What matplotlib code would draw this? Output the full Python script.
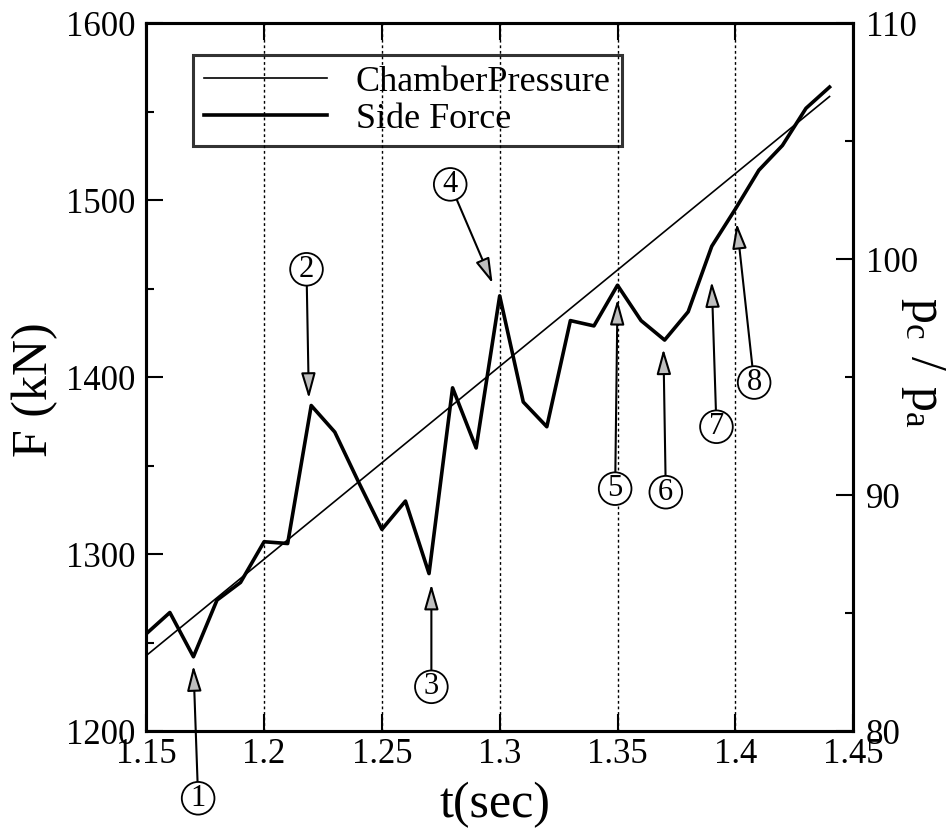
import matplotlib
matplotlib.use('Agg')
import matplotlib.pyplot as plt
from matplotlib.ticker import MultipleLocator

plt.rcParams['font.family'] = ['Liberation Serif', 'DejaVu Serif']
plt.rcParams['mathtext.fontset'] = 'custom'
plt.rcParams['mathtext.rm'] = 'Liberation Serif'

# side force (kN) sampled every 0.01 s
t_force = [1.15, 1.16, 1.17, 1.18, 1.19, 1.20, 1.21, 1.22, 1.23, 1.24,
           1.25, 1.26, 1.27, 1.28, 1.29, 1.30, 1.31, 1.32, 1.33, 1.34,
           1.35, 1.36, 1.37, 1.38, 1.39, 1.40, 1.41, 1.42, 1.43, 1.44]
side_force = [1255, 1267, 1242, 1274, 1284, 1307, 1306, 1384, 1369, 1341,
              1314, 1330, 1289, 1394, 1360, 1446, 1386, 1372, 1432, 1429,
              1452, 1432, 1421, 1437, 1474, 1495, 1517, 1531, 1552, 1564]

# chamber pressure ratio pc/pa
t_press = [1.15, 1.44]
chamber_pressure = [83.2, 106.9]

# numbered markers: label, circle position (t, F), arrow tip (t, F)
marker_labels = ['1', '2', '3', '4', '5', '6', '7', '8']
circle_t = [1.172, 1.218, 1.271, 1.279, 1.349, 1.3705, 1.392, 1.408]
circle_f = [1162, 1461, 1225, 1509, 1337, 1335, 1372, 1397]
tip_t = [1.170, 1.219, 1.271, 1.297, 1.350, 1.3695, 1.390, 1.4006]
tip_f = [1237, 1388, 1283, 1453, 1444, 1416, 1454, 1487]

fig = plt.figure(figsize=(9.5, 8.35), dpi=100)
ax = fig.add_axes([0.154, 0.1245, 0.744, 0.8475])
ax2 = ax.twinx()

# dotted vertical grid
for g in [1.2, 1.25, 1.3, 1.35, 1.4]:
    ax.axvline(g, color='black', linestyle=(0, (2, 2)), lw=1.0, zorder=0)

l1, = ax2.plot(t_press, chamber_pressure, color='black', lw=1.2, label='ChamberPressure')
l2, = ax.plot(t_force, side_force, color='black', lw=2.6, label='Side Force')

ax.set_xlim(1.15, 1.45)
ax.set_ylim(1200, 1600)
ax2.set_ylim(80, 110)

ax.yaxis.set_major_locator(MultipleLocator(100))
ax.yaxis.set_minor_locator(MultipleLocator(50))
ax2.yaxis.set_major_locator(MultipleLocator(10))
ax2.yaxis.set_minor_locator(MultipleLocator(5))
ax.set_xticks([1.15, 1.2, 1.25, 1.3, 1.35, 1.4, 1.45])
ax.set_xticklabels(['1.15', '1.2', '1.25', '1.3', '1.35', '1.4', '1.45'])

ax.tick_params(axis='x', which='major', direction='in', top=True, length=12, width=1.5,
               labelsize=25, pad=5)
ax.tick_params(axis='y', which='major', direction='in', right=False, length=12, width=1.5,
               labelsize=25, pad=8)
ax.tick_params(axis='y', which='minor', direction='in', right=False, length=6, width=1.5)
ax2.tick_params(axis='y', which='major', direction='in', length=12, width=1.5,
                labelsize=25, pad=9)
ax2.tick_params(axis='y', which='minor', direction='in', length=6, width=1.5)

for a in (ax, ax2):
    for s in a.spines.values():
        s.set_linewidth(2.2)

ax.set_xlabel('t(sec)', fontsize=36, va='center')
ax.xaxis.set_label_coords(0.493, -0.1045)
ax.set_ylabel('F (kN)', fontsize=36, va='center')
ax.yaxis.set_label_coords(-0.157, 0.483)
ax2.set_ylabel(r'$\mathregular{p_c\ /\ p_a}$', fontsize=36, rotation=270, va='center')
ax2.yaxis.set_label_coords(1.099, 0.521)

leg = ax2.legend(handles=[l1, l2], loc='upper left', bbox_to_anchor=(0.0665, 0.956),
                 fontsize=26, frameon=True, fancybox=False, facecolor='none',
                 edgecolor='black', handlelength=3.4, handletextpad=0.8,
                 labelspacing=0.1, borderpad=0.3, borderaxespad=0)
leg.get_frame().set_linewidth(2.2)

for lab, ct, cf, tt, tf in zip(marker_labels, circle_t, circle_f, tip_t, tip_f):
    ax.annotate(lab, xy=(tt, tf), xytext=(ct, cf), textcoords='data',
                ha='center', va='center', fontsize=22, annotation_clip=False,
                bbox=dict(boxstyle='circle,pad=0.06', fc='white', ec='black', lw=1.3),
                arrowprops=dict(arrowstyle='-|>,head_length=0.7,head_width=0.2',
                                fc='0.75', ec='black', lw=1.5, shrinkA=0, shrinkB=0),
                zorder=5)

fig.savefig('out.png', dpi=100)
